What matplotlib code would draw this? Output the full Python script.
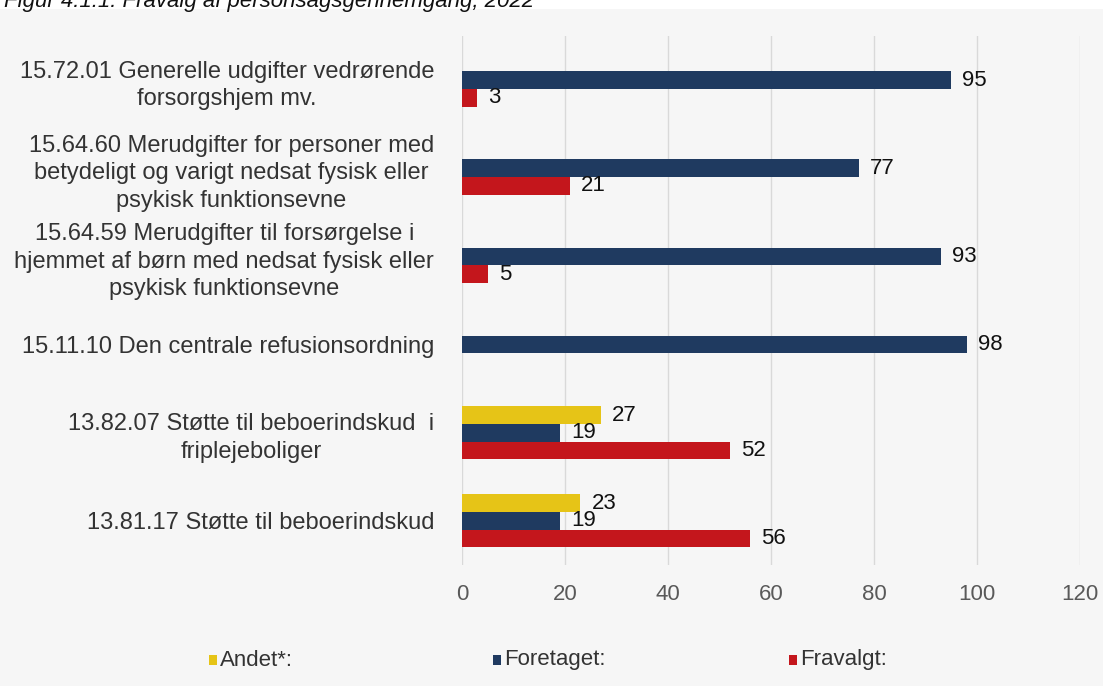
import numpy as np
import matplotlib
matplotlib.use("Agg")
import matplotlib.pyplot as plt
from matplotlib.patches import Rectangle

plt.rcParams['font.family'] = ['Liberation Sans', 'DejaVu Sans']

categories = [
    "15.72.01 Generelle udgifter vedrørende\nforsorgshjem mv.",
    "15.64.60 Merudgifter for personer med\nbetydeligt og varigt nedsat fysisk eller\npsykisk funktionsevne",
    "15.64.59 Merudgifter til forsørgelse i\nhjemmet af børn med nedsat fysisk eller\npsykisk funktionsevne",
    "15.11.10 Den centrale refusionsordning",
    "13.82.07 Støtte til beboerindskud  i\nfriplejeboliger",
    "13.81.17 Støtte til beboerindskud",
]
andet = [0, 0, 0, 0, 27, 23]
foretaget = [95, 77, 93, 98, 19, 19]
fravalgt = [3, 21, 5, 0, 52, 56]

series = [("Andet*:", andet, "#e6c417"),
          ("Foretaget:", foretaget, "#1f3a60"),
          ("Fravalgt:", fravalgt, "#c4161c")]

W, H = 1103, 686
fig = plt.figure(figsize=(W / 100, H / 100), dpi=100, facecolor="white")
# grey panel behind the chart
fig.patches.append(Rectangle((0, 0), 1, 1 - 9 / H, transform=fig.transFigure,
                             facecolor="#f6f6f6", edgecolor="none", zorder=-10))
fig.text(0.004, 1 - 1 / H, "Figur 4.1.1: Fravalg af personsagsgennemgang, 2022",
         fontsize=16, style="italic", va="center", ha="left", color="#111111")

ax = fig.add_axes([462 / W, 1 - 565 / H, (1080 - 462) / W, (565 - 36) / H])
ax.set_facecolor("none")

y = np.arange(len(categories))
h = 0.2
for k, (name, vals, col) in enumerate(series):
    pos = y + (k - 1) * h
    ax.barh(pos, vals, height=h, color=col, label=name, zorder=3)
    for p, v in zip(pos, vals):
        if v:
            ax.annotate(str(v), (v, p), xytext=(8, 0), textcoords="offset points",
                        va="center", ha="left", fontsize=16, color="#111111", zorder=4)

ax.set_xlim(0, 120)
ax.set_ylim(len(categories) - 0.5, -0.5)
ax.set_xticks(range(0, 121, 20))
ax.set_yticks(y)
ax.set_yticklabels(categories, multialignment="center", fontsize=17, color="#333333",
                   linespacing=1.32)
ax.tick_params(axis="x", labelsize=16, labelcolor="#595959", length=0, pad=14)
ax.tick_params(axis="y", length=0, pad=20)
ax.grid(axis="x", color="#d9d9d9", linewidth=1, zorder=0)
for s in ax.spines.values():
    s.set_visible(False)

# legend entries placed along the bottom
legend_x = [209, 493, 789]
for (name, vals, col), lx in zip(series, legend_x):
    fig.patches.append(Rectangle((lx / W, 1 - 665 / H), 8 / W, 10 / H,
                                 transform=fig.transFigure, facecolor=col,
                                 edgecolor="none"))
    fig.text((lx + 11) / W, 1 - 660 / H, name, fontsize=16, color="#333333",
             va="center", ha="left")

fig.savefig("out.png", dpi=100, facecolor=fig.get_facecolor())
